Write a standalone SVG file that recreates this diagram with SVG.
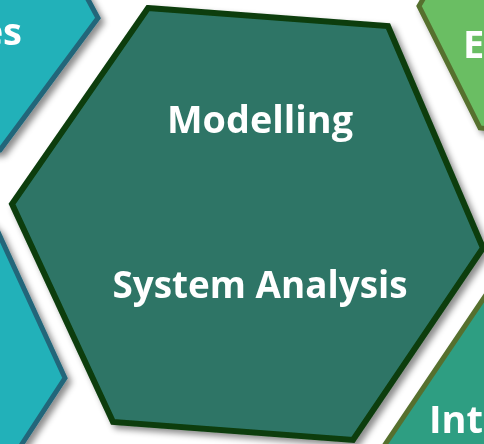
<svg xmlns="http://www.w3.org/2000/svg" width="484" height="444" viewBox="0 0 484 444">
<defs>
<filter id="sh" x="-20%" y="-20%" width="140%" height="140%">
<feDropShadow dx="4" dy="4" stdDeviation="3" flood-color="#000" flood-opacity="0.45"/>
</filter>
<style>
.lbl{font-family:"Open Sans","Noto Sans","Liberation Sans",sans-serif;font-weight:bold;font-size:38px;fill:#ffffff}
.teal{fill:#23B1B9;stroke:#21667A;stroke-width:5;stroke-linejoin:miter}
.green{fill:#6ABE64;stroke:#56702F;stroke-width:5}
.sea{fill:#2E9E82;stroke:#56702F;stroke-width:5}
.main{fill:#2E7566;stroke:#0B3D0C;stroke-width:6;stroke-linejoin:miter}
</style>
</defs>
<rect width="484" height="444" fill="#ffffff"/>
<g id="node-top-left" filter="url(#sh)">
<polygon class="teal" points="-200,-120 84,-8 98,18 0,150 -120,160"/>
<text class="lbl" x="22" y="45" text-anchor="end">es</text>
</g>
<g id="node-bottom-left" filter="url(#sh)">
<polygon class="teal" points="-80,150 -2,232 65,378 18,450 -80,480"/>
</g>
<g id="node-top-right" filter="url(#sh)">
<polygon class="green" points="440,-30 419,6 480,128 600,140 600,-30"/>
<text class="lbl" x="463" y="58">E</text>
</g>
<g id="node-bottom-right" filter="url(#sh)">
<polygon class="sea" points="490,289 382,449 600,460 600,289"/>
<text class="lbl" x="429" y="433">Int</text>
</g>
<g id="connectors"></g>
<g id="node-center" filter="url(#sh)">
<polygon class="main" points="148,8 388,26 483,248 353,440 113,422 12,204"/>
<text class="lbl" x="260" y="133" text-anchor="middle" textLength="186" lengthAdjust="spacingAndGlyphs">Modelling</text>
<text class="lbl" x="260" y="298" text-anchor="middle" textLength="295" lengthAdjust="spacingAndGlyphs">System Analysis</text>
</g>
</svg>
